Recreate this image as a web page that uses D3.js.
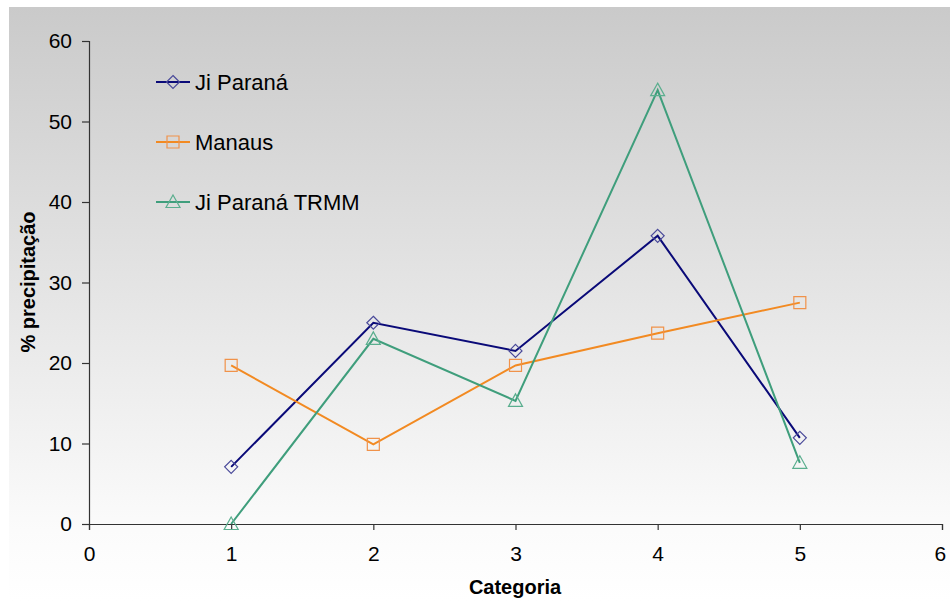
<!DOCTYPE html>
<html>
<head>
<meta charset="utf-8">
<script src="https://cdn.jsdelivr.net/npm/d3@7"></script>
<style>
  body { margin: 0; background: #fff; }
  text { font-family: "Liberation Sans", Arial, sans-serif; fill: #000; }
</style>
</head>
<body>
<div class="chart"></div>
<script>
// data
const categories = [1, 2, 3, 4, 5];
const jiParana = [7.1, 25.0, 21.5, 35.8, 10.7];
const manaus = [19.7, 9.9, 19.7, 23.7, 27.5];
const jiParanaTrmm = [0, 23.0, 15.3, 53.9, 7.6];
const xTicks = [0, 1, 2, 3, 4, 5, 6];
const yTicks = [0, 10, 20, 30, 40, 50, 60];

const series = [
  {name: "Ji Paraná", values: jiParana, line: "#0a0a78", mark: "#4a4a9a", shape: "diamond"},
  {name: "Manaus", values: manaus, line: "#f28a22", mark: "#f0924a", shape: "square"},
  {name: "Ji Paraná TRMM", values: jiParanaTrmm, line: "#3f9e7c", mark: "#5aae8e", shape: "triangle"}
];

const W = 950, H = 601;
const margin = ({top: 41, right: 8, bottom: 77, left: 89});
const width = W - margin.left - margin.right,
      height = H - margin.top - margin.bottom;

const svg = d3.select(".chart").append("svg")
  .attr("width", W)
  .attr("height", H);

// grey-to-white background
const grad = svg.append("defs").append("linearGradient")
  .attr("id", "bg").attr("x1", 0).attr("y1", 0).attr("x2", 0).attr("y2", 1);
grad.append("stop").attr("offset", "0%").attr("stop-color", "#cacaca");
grad.append("stop").attr("offset", "88%").attr("stop-color", "#fbfbfb");
grad.append("stop").attr("offset", "100%").attr("stop-color", "#ffffff");
svg.append("rect")
  .attr("x", 9).attr("y", 7)
  .attr("width", W - 9).attr("height", H - 7)
  .attr("fill", "url(#bg)");

const g = svg.append("g")
  .attr("transform", "translate(" + margin.left + "," + margin.top + ")");

const xScale = d3.scaleLinear().domain([0, 6]).range([0, 853]);
const yScale = d3.scaleLinear().domain([0, 60]).range([height, 0]);

const yAxis = d3.axisLeft(yScale).tickValues(yTicks).tickFormat(d3.format("d"))
  .tickSize(7).tickPadding(10);
const xAxis = d3.axisBottom(xScale).tickValues(xTicks).tickFormat(d3.format("d"))
  .tickSize(6).tickPadding(16);

const ya = g.append("g").attr("class", "y-axis").call(yAxis);
const xa = g.append("g").attr("class", "x-axis")
  .attr("transform", "translate(0," + height + ")")
  .call(xAxis);
[ya, xa].forEach(a => {
  a.select(".domain").attr("stroke", "#333").attr("stroke-width", 1.2);
  a.selectAll(".tick line").attr("stroke", "#333").attr("stroke-width", 1.2);
  a.selectAll(".tick text").style("font-size", "21px").attr("fill", "#111");
});
xa.select(".tick:last-of-type text").attr("dx", "-0.1em");

// axis titles
svg.append("text")
  .attr("x", 515).attr("y", 594)
  .attr("text-anchor", "middle")
  .style("font-size", "20px").style("font-weight", "bold")
  .text("Categoria");
svg.append("text")
  .attr("transform", "translate(35,282) rotate(-90)")
  .attr("text-anchor", "middle")
  .style("font-size", "20px").style("font-weight", "bold")
  .text("% precipitação");

function markerPath(shape) {
  if (shape === "diamond") return "M0,-6.5L6.5,0L0,6.5L-6.5,0Z";
  if (shape === "square") return "M-6,-6H6V6H-6Z";
  return "M0,-7L7,5.5L-7,5.5Z";
}

const line = d3.line()
  .x((d, i) => xScale(categories[i]))
  .y(d => yScale(d));

series.forEach(s => {
  g.append("path")
    .datum(s.values)
    .attr("fill", "none")
    .attr("stroke", s.line)
    .attr("stroke-width", 2)
    .attr("d", line);
  g.selectAll(null)
    .data(s.values)
    .enter().append("path")
    .attr("transform", (d, i) => "translate(" + xScale(categories[i]) + "," + yScale(d) + ")")
    .attr("d", markerPath(s.shape))
    .attr("fill", "none")
    .attr("stroke", s.mark)
    .attr("stroke-width", 1.2);
});

// legend
const legend = svg.append("g").attr("transform", "translate(156,82)");
series.forEach((s, i) => {
  const row = legend.append("g").attr("transform", "translate(0," + i * 60 + ")");
  row.append("line").attr("x1", 0).attr("x2", 34).attr("y1", 0).attr("y2", 0)
    .attr("stroke", s.line).attr("stroke-width", 2);
  row.append("path").attr("transform", "translate(17,0)")
    .attr("d", markerPath(s.shape))
    .attr("fill", "none").attr("stroke", s.mark).attr("stroke-width", 1.2);
  row.append("text").attr("x", 39).attr("y", 8)
    .style("font-size", "22px")
    .text(s.name);
});
</script>
</body>
</html>
